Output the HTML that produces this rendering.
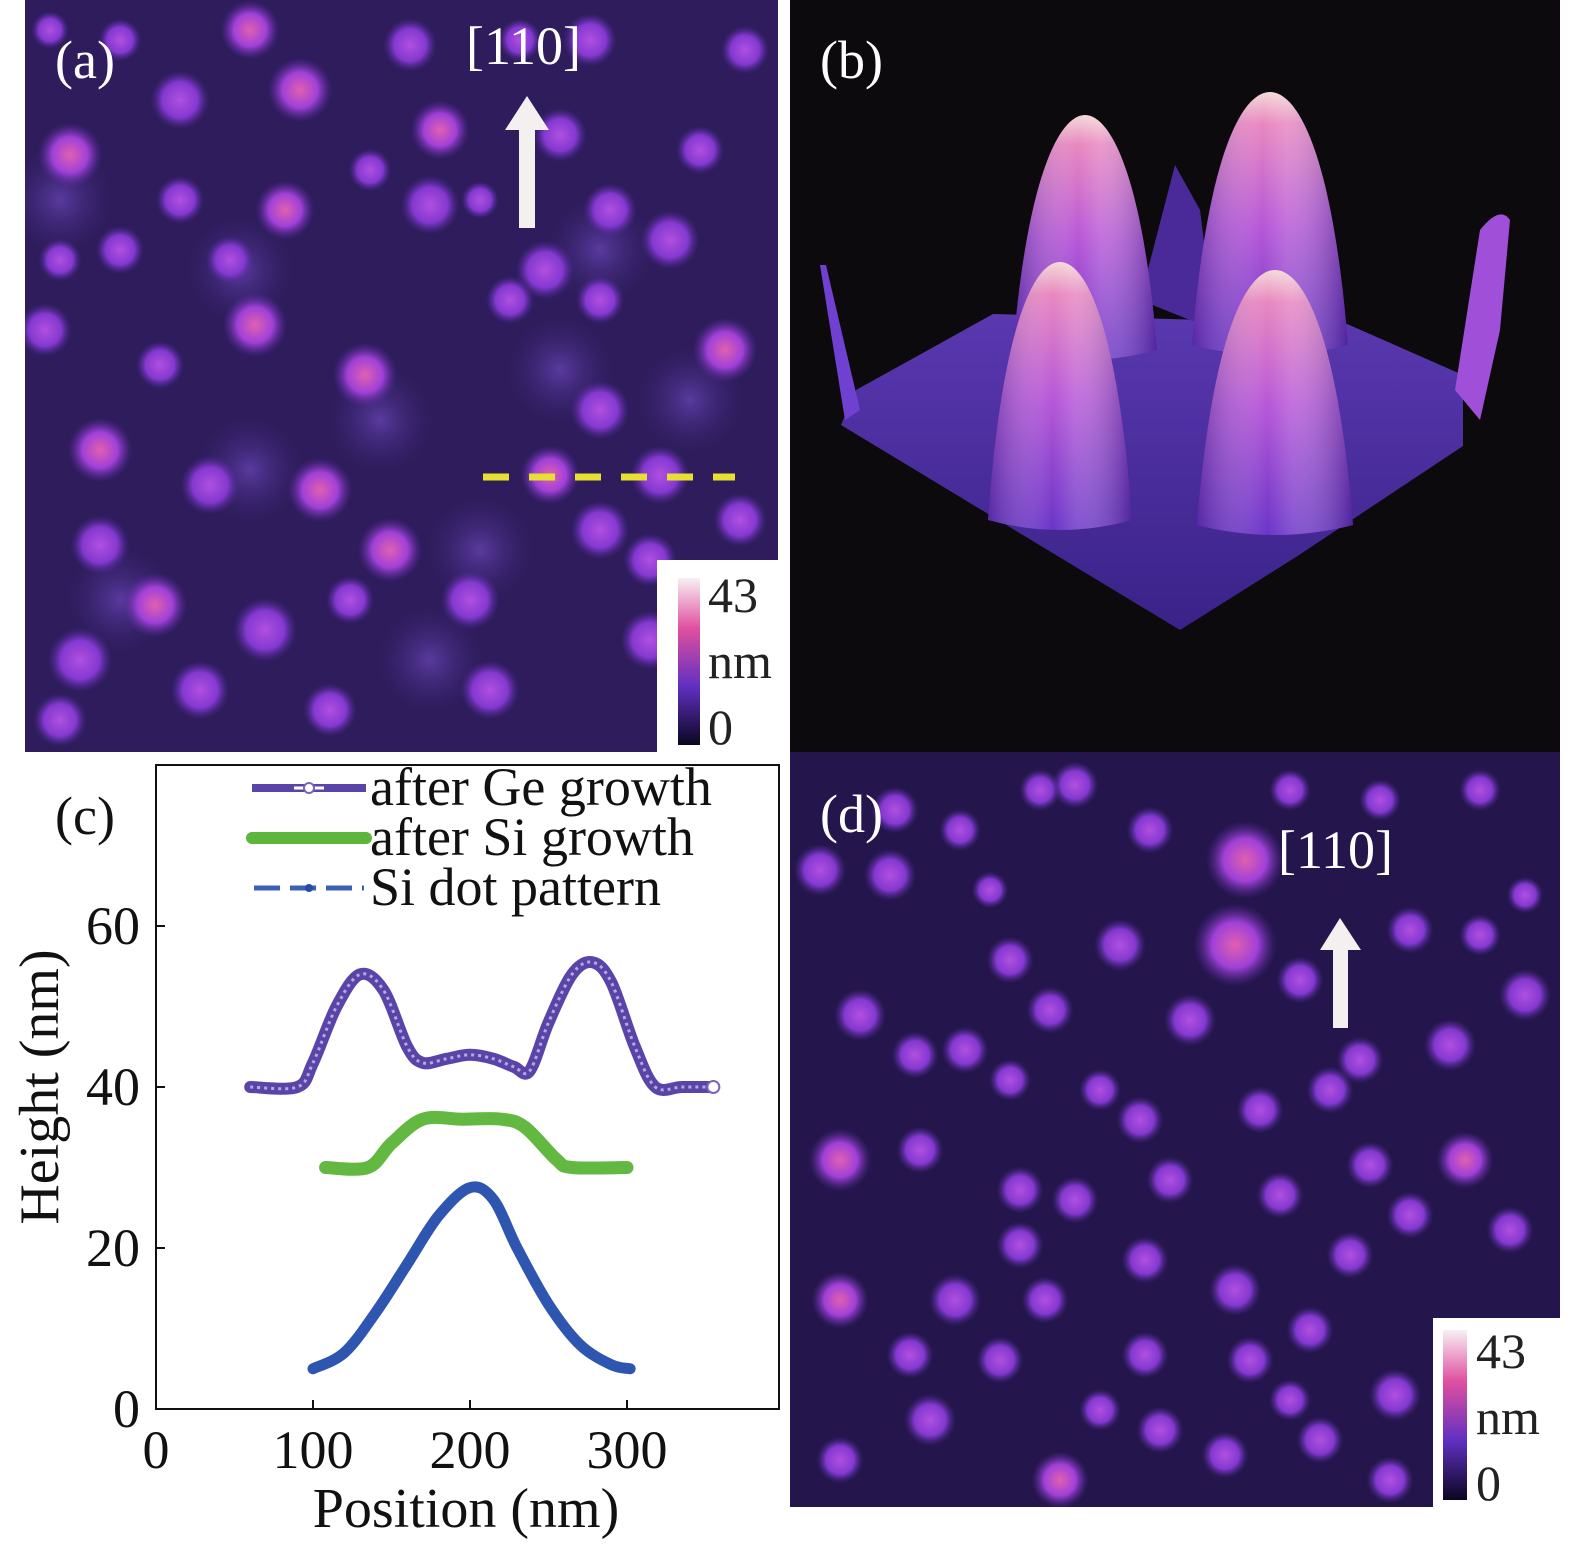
<!DOCTYPE html>
<html><head><meta charset="utf-8">
<style>
html,body{margin:0;padding:0;background:#fff;}
body{width:1575px;height:1549px;position:relative;overflow:hidden;font-family:"Liberation Serif",serif;}
svg{position:absolute;left:0;top:0;}
</style></head>
<body>
<svg id="fig" width="1575" height="1549" viewBox="0 0 1575 1549" xmlns="http://www.w3.org/2000/svg">
<defs>
<clipPath id="clipA"><rect x="25" y="0" width="753" height="752"/></clipPath>
<clipPath id="clipD"><rect x="790" y="752" width="770" height="755"/></clipPath>
<radialGradient id="dotA"><stop offset="0" stop-color="#e060b0"/><stop offset="0.55" stop-color="#a040d8"/><stop offset="1" stop-color="#5a2aa0" stop-opacity="0"/></radialGradient>
<radialGradient id="dotB"><stop offset="0" stop-color="#b050e0"/><stop offset="0.6" stop-color="#8438d0"/><stop offset="1" stop-color="#4a2890" stop-opacity="0"/></radialGradient>
<radialGradient id="faint"><stop offset="0" stop-color="#5a3aa0"/><stop offset="1" stop-color="#3a2470" stop-opacity="0"/></radialGradient>
<linearGradient id="cbar" x1="0" y1="1" x2="0" y2="0"><stop offset="0" stop-color="#0a0620"/><stop offset="0.35" stop-color="#6030c0"/><stop offset="0.7" stop-color="#e050a0"/><stop offset="1" stop-color="#f8f0f4"/></linearGradient>
<linearGradient id="cone" x1="0" y1="0" x2="0" y2="1"><stop offset="0" stop-color="#f4d8d8"/><stop offset="0.12" stop-color="#e888c0"/><stop offset="0.5" stop-color="#b858d8"/><stop offset="1" stop-color="#6a34c8"/></linearGradient>
<linearGradient id="coneH" x1="0" y1="0" x2="1" y2="0"><stop offset="0" stop-color="#3a1880" stop-opacity="0.5"/><stop offset="0.45" stop-color="#fff" stop-opacity="0"/><stop offset="0.6" stop-color="#fff" stop-opacity="0.15"/><stop offset="1" stop-color="#2a1070" stop-opacity="0.5"/></linearGradient>
<linearGradient id="plane" x1="0" y1="0" x2="0" y2="1"><stop offset="0" stop-color="#5a38b0"/><stop offset="1" stop-color="#3a2288"/></linearGradient>
</defs>

<!-- panel a -->
<g>
<rect x="25" y="0" width="753" height="752" fill="#2e1c5c"/>
<g id="dotsA" clip-path="url(#clipA)"></g>
<line x1="483" y1="477" x2="735" y2="477" stroke="#e8e030" stroke-width="7" stroke-dasharray="26,20"/>
<polygon points="527,96 505,130 519,130 519,228 535,228 535,130 549,130" fill="#f4f0f0"/>
<text x="466" y="64" font-size="54" fill="#fff">[110]</text>
<text x="55" y="78" font-size="54" fill="#fff">(a)</text>
<rect x="657" y="560" width="121" height="192" fill="#fff"/>
<rect x="678" y="578" width="22" height="167" fill="url(#cbar)"/>
<text x="708" y="612" font-size="50" fill="#222">43</text>
<text x="708" y="678" font-size="50" fill="#222">nm</text>
<text x="708" y="744" font-size="50" fill="#222">0</text>
</g>

<!-- panel b -->
<g>
<rect x="790" y="0" width="770" height="752" fill="#0c0a0c"/>
<polygon points="856,390 993,314 1347,324 1463,375 1463,446 1296,557 1180,630 841,425" fill="url(#plane)"/>
<polygon points="820,265 826,265 860,410 845,420" fill="#7040d0"/>
<path d="M1455,390 L1480,230 Q1500,205 1510,220 L1500,330 L1480,420 Z" fill="#a050d8"/>
<path d="M1140,300 L1175,165 L1200,210 L1215,330 Z" fill="#4a2a98"/>
<g id="cones"></g>
<text x="820" y="78" font-size="54" fill="#fff">(b)</text>
</g>

<!-- panel d -->
<g>
<rect x="790" y="752" width="770" height="755" fill="#24164c"/>
<g id="dotsD" clip-path="url(#clipD)"></g>
<polygon points="1340,918 1320,950 1333,950 1333,1028 1348,1028 1348,950 1361,950" fill="#f4f0f0"/>
<text x="1278" y="868" font-size="54" fill="#fff">[110]</text>
<text x="820" y="832" font-size="54" fill="#fff">(d)</text>
<rect x="1433" y="1318" width="127" height="189" fill="#fff"/>
<rect x="1443" y="1330" width="24" height="170" fill="url(#cbar)"/>
<text x="1476" y="1368" font-size="50" fill="#222">43</text>
<text x="1476" y="1434" font-size="50" fill="#222">nm</text>
<text x="1476" y="1500" font-size="50" fill="#222">0</text>
</g>

<!-- panel c chart -->
<g>
<rect x="156" y="765" width="623" height="644" fill="#fff" stroke="#111" stroke-width="2"/>
<g id="ticks"></g>
<g id="series"></g>
<text x="55" y="834" font-size="54" fill="#111">(c)</text>
<text x="466" y="1527" font-size="56" fill="#111" text-anchor="middle">Position (nm)</text>
<text transform="translate(58,1087) rotate(-90)" font-size="56" fill="#111" text-anchor="middle">Height (nm)</text>
<g>
<g><rect x="252" y="784" width="114" height="8" fill="#5b44a8"/><line x1="294" y1="788" x2="324" y2="788" stroke="#fff" stroke-width="3"/><circle cx="309" cy="788" r="5" fill="#fff" stroke="#7a64c0" stroke-width="2"/><text x="370" y="805" font-size="54" fill="#111">after Ge growth</text></g>
<g><line x1="252" y1="838" x2="366" y2="838" stroke="#5cb53c" stroke-width="12" stroke-linecap="round"/><text x="370" y="855" font-size="54" fill="#111">after Si growth</text></g>
<g><line x1="254" y1="888" x2="364" y2="888" stroke="#3a62b4" stroke-width="5" stroke-dasharray="26,10"/><circle cx="309" cy="888" r="4" fill="#2a4aa4"/><text x="370" y="905" font-size="54" fill="#111">Si dot pattern</text></g>
</g>
</g>
</svg>
<script>
// chart data (panel c)
const xTicks=[0,100,200,300];
const yTicks=[0,20,40,60];
const geX=[60,90,100,115,130,145,160,170,185,200,215,228,238,250,265,278,290,305,318,335,355];
const geY=[40,40,43,50,54,52,45,43,43.5,44,43.5,42.5,42,48,54,55.5,53,45,40,40,40];
const siGrowthX=[108,135,150,170,195,220,235,255,265,300];
const siGrowthY=[30,30,33,36,36,36,35,31,30,30];
const siDotX=[100,120,140,160,180,200,215,230,250,270,290,302];
const siDotY=[5,7,12,18,24,27.5,26,20,13,8,5.5,5];

const NS='http://www.w3.org/2000/svg';
function sx(v){return 156+v*1.57;}
function sy(v){return 1409-v*8.05;}
function mk(tag,attrs,parent){const e=document.createElementNS(NS,tag);for(const k in attrs)e.setAttribute(k,attrs[k]);parent.appendChild(e);return e;}

const tg=document.getElementById('ticks');
xTicks.forEach(t=>{
  const l=mk('line',{x1:sx(t),y1:1409,x2:sx(t),y2:1400,stroke:'#111','stroke-width':2},tg);
  
  
  const tx=mk('text',{x:sx(t),y:1468,'font-size':54,'text-anchor':'middle',fill:'#111'},tg);
  tx.textContent=t;
  
  
});
yTicks.forEach(t=>{
  const l=mk('line',{x1:156,y1:sy(t),x2:165,y2:sy(t),stroke:'#111','stroke-width':2},tg);
  
  
  const tx=mk('text',{x:140,y:sy(t)+18,'font-size':54,'text-anchor':'end',fill:'#111'},tg);
  tx.textContent=t;
  
  
});
function smoothPath(xs,ys){
  const p=xs.map((x,i)=>[sx(x),sy(ys[i])]);
  let d='M'+p[0][0]+','+p[0][1];
  for(let i=0;i<p.length-1;i++){
    const p0=p[i-1]||p[i],p1=p[i],p2=p[i+1],p3=p[i+2]||p2;
    const c1=[p1[0]+(p2[0]-p0[0])/6,p1[1]+(p2[1]-p0[1])/6];
    const c2=[p2[0]-(p3[0]-p1[0])/6,p2[1]-(p3[1]-p1[1])/6];
    d+=' C'+c1+' '+c2+' '+p2;
  }
  return d;
}
const sg=document.getElementById('series');
let s=mk('path',{d:smoothPath(siDotX,siDotY),fill:'none',stroke:'#2e56b0','stroke-width':11,'stroke-linecap':'round'},sg);


s=mk('path',{d:smoothPath(siGrowthX,siGrowthY),fill:'none',stroke:'#62b840','stroke-width':13,'stroke-linecap':'round'},sg);


s=mk('path',{d:smoothPath(geX,geY),fill:'none',stroke:'#5b44a8','stroke-width':12,'stroke-linecap':'round'},sg);


mk('path',{d:smoothPath(geX,geY),fill:'none',stroke:'#b8a8e0','stroke-width':3,'stroke-dasharray':'3,4'},sg);
mk('circle',{cx:sx(355),cy:sy(40),r:6,fill:'#fff',stroke:'#7a64c0','stroke-width':2},sg);

// decorative AFM dots (image texture, not chart data)
const dA=[[250,30,22,1],[410,45,20,0],[590,40,20,0],[745,50,18,0],[520,40,16,0],[70,155,24,1],[180,100,22,0],[300,90,24,1],[440,130,22,1],[560,135,20,0],[285,210,22,1],[430,205,22,0],[610,210,20,0],[670,240,22,0],[480,200,14,0],[255,325,24,1],[365,375,24,1],[545,270,22,0],[725,350,24,1],[45,330,20,0],[160,365,18,0],[100,450,24,1],[210,485,22,0],[320,490,24,1],[550,475,22,1],[600,410,22,0],[660,475,22,0],[390,550,24,1],[600,530,22,0],[100,545,22,0],[155,605,24,1],[265,630,24,0],[470,600,22,0],[80,660,24,0],[200,690,22,0],[330,710,20,0],[490,690,22,0],[230,260,18,0],[120,250,18,0],[60,260,16,0],[600,300,18,0],[510,300,18,0],[650,560,20,0],[650,640,22,0],[740,520,20,0],[60,720,20,0],[700,720,20,0],[350,600,18,0],[180,200,18,0],[370,170,16,0],[700,150,18,0],[120,40,16,0],[50,30,14,0]];
const fA=[[240,270],[380,420],[250,470],[480,550],[600,250],[120,600],[430,660],[60,200],[560,370],[690,400]];
const ga=document.getElementById('dotsA');
fA.forEach(f=>mk('circle',{cx:f[0],cy:f[1],r:55,fill:'url(#faint)'},ga));
dA.forEach(d=>mk('circle',{cx:d[0],cy:d[1],r:d[2]*1.35,fill:d[3]?'url(#dotA)':'url(#dotB)'},ga));

const dD=[[1245,860,30,1],[1235,945,32,1],[1075,785,18,0],[1150,830,18,0],[1290,790,16,0],[1380,800,16,0],[1480,790,16,0],[1040,790,16,0],[895,810,18,0],[820,870,20,0],[890,875,20,0],[960,830,16,0],[1120,945,20,0],[1010,960,18,0],[1190,1020,20,0],[1300,980,18,0],[1410,930,18,0],[1525,995,20,0],[860,1015,20,0],[915,1055,18,0],[965,1050,18,0],[1050,1010,18,0],[1450,1045,20,0],[1360,1060,18,0],[1260,1110,18,0],[1140,1120,18,0],[1100,1090,16,0],[1010,1080,16,0],[840,1160,24,1],[920,1150,18,0],[1020,1190,18,0],[1075,1200,18,0],[1170,1180,18,0],[1330,1090,18,0],[1465,1160,22,1],[1370,1165,18,0],[1280,1195,18,0],[1410,1215,18,0],[1510,1230,18,0],[1020,1245,18,0],[1350,1255,18,0],[1235,1290,20,0],[955,1300,20,0],[840,1300,22,1],[1045,1300,18,0],[1145,1260,18,0],[1310,1330,18,0],[1395,1395,20,0],[910,1355,18,0],[1000,1360,18,0],[1145,1355,18,0],[1250,1360,18,0],[930,1420,20,0],[840,1460,18,0],[1060,1480,22,1],[1160,1430,18,0],[1225,1455,18,0],[1320,1440,18,0],[1390,1480,18,0],[1290,1400,16,0],[1100,1410,16,0],[1480,935,16,0],[1525,895,14,0],[990,890,14,0],[1510,1420,14,0]];
const gd=document.getElementById('dotsD');
dD.forEach(d=>mk('circle',{cx:d[0],cy:d[1],r:d[2]*1.3,fill:d[3]?'url(#dotA)':'url(#dotB)'},gd));

// cones in panel b
const cones=[[1085,115,72,350],[1270,92,78,345],[1060,262,72,520],[1275,270,78,525]];
const gc=document.getElementById('cones');
cones.forEach(c=>{
  const [tx,ty,hw,by]=c;
  const d='M'+(tx-hw)+','+by+' C'+(tx-hw*0.8)+','+(ty+60)+' '+(tx-hw*0.35)+','+ty+' '+tx+','+ty+' C'+(tx+hw*0.35)+','+ty+' '+(tx+hw*0.8)+','+(ty+60)+' '+(tx+hw)+','+by+' Q'+tx+','+(by+20)+' '+(tx-hw)+','+by+' Z';
  mk('path',{d:d,fill:'url(#cone)'},gc);
  mk('path',{d:d,fill:'url(#coneH)'},gc);
});
</script>
</body></html>
